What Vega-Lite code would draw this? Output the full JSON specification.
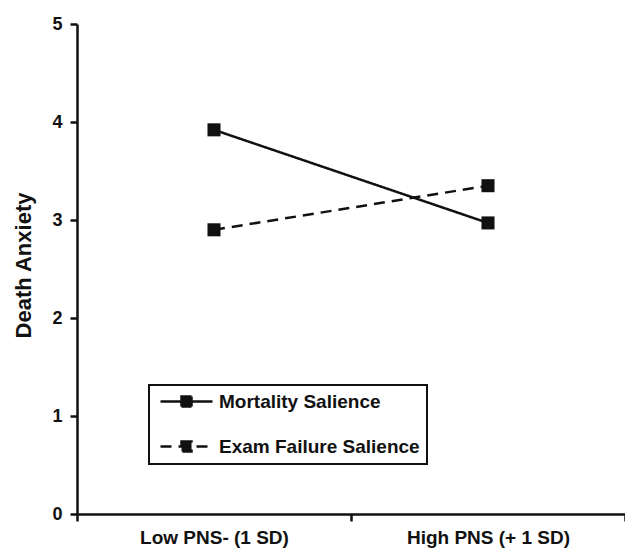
{
  "$schema": "https://vega.github.io/schema/vega-lite/v6.json",
  "width": 548,
  "height": 490,
  "autosize": {"type": "none"},
  "padding": {"left": 77, "top": 24, "right": 0, "bottom": 35},
  "background": "white",
  "config": {
    "view": {"stroke": null},
    "font": "Liberation Sans",
    "axis": {"domainColor": "#111", "domainWidth": 2.5, "tickColor": "#111", "tickWidth": 2.5, "labelColor": "#111", "titleColor": "#111", "labelFontWeight": "bold", "labelFont": "Liberation Sans", "titleFont": "Liberation Sans", "grid": false}
  },
  "data": {
    "values": [
      {"pns": "Low PNS- (1 SD)", "condition": "Mortality Salience", "anxiety": 3.92},
      {"pns": "High PNS (+ 1 SD)", "condition": "Mortality Salience", "anxiety": 2.97},
      {"pns": "Low PNS- (1 SD)", "condition": "Exam Failure Salience", "anxiety": 2.9},
      {"pns": "High PNS (+ 1 SD)", "condition": "Exam Failure Salience", "anxiety": 3.35}
    ]
  },
  "encoding": {
    "x": {
      "field": "pns", "type": "nominal", "sort": ["Low PNS- (1 SD)", "High PNS (+ 1 SD)"],
      "scale": {"type": "band", "paddingInner": 0, "paddingOuter": 0},
      "axis": {"title": null, "labelAngle": 0, "labelFontSize": 19, "labelPadding": 7, "labelDx": -16, "tickBand": "extent", "tickSize": 7, "labelLimit": 300}
    },
    "y": {
      "field": "anxiety", "type": "quantitative",
      "scale": {"domain": [0, 5], "nice": false, "zero": true},
      "axis": {"title": "Death Anxiety", "values": [0, 1, 2, 3, 4, 5], "labelFontSize": 18, "labelPadding": 8, "tickSize": 7, "titleFontSize": 22, "titleFontWeight": "bold", "titleX": -54, "titleY": 241, "titleAngle": -90, "titleBaseline": "middle", "titleAlign": "center"}
    }
  },
  "layer": [
    {
      "mark": {"type": "line", "color": "#111", "strokeWidth": 2.5},
      "encoding": {
        "detail": {"field": "condition"},
        "strokeDash": {
          "field": "condition", "type": "nominal",
          "scale": {"domain": ["Mortality Salience", "Exam Failure Salience"], "range": [[1, 0], [11, 7]]},
          "legend": {
            "title": null, "orient": "none", "legendX": 72, "legendY": 361,
            "direction": "vertical",
            "strokeColor": "#111", "fillColor": "white", "padding": 7,
            "labelFontSize": 19, "labelFontWeight": "bold", "labelColor": "#111", "labelFont": "Liberation Sans", "labelLimit": 400,
            "symbolType": "M-3.25,0L3.25,0M-0.625,-0.625L0.625,-0.625L0.625,0.625L-0.625,0.625Z",
            "symbolSize": 256, "symbolStrokeWidth": 2.5, "symbolStrokeColor": "#111", "symbolFillColor": "#111",
            "symbolOffset": 21, "labelOffset": 23, "rowPadding": 24,
            "encode": {
              "legend": {"update": {"strokeWidth": {"value": 2}}}
            }
          }
        }
      }
    },
    {
      "mark": {"type": "square", "color": "#111", "filled": true, "size": 170, "opacity": 1},
      "encoding": {"detail": {"field": "condition"}}
    }
  ]
}
